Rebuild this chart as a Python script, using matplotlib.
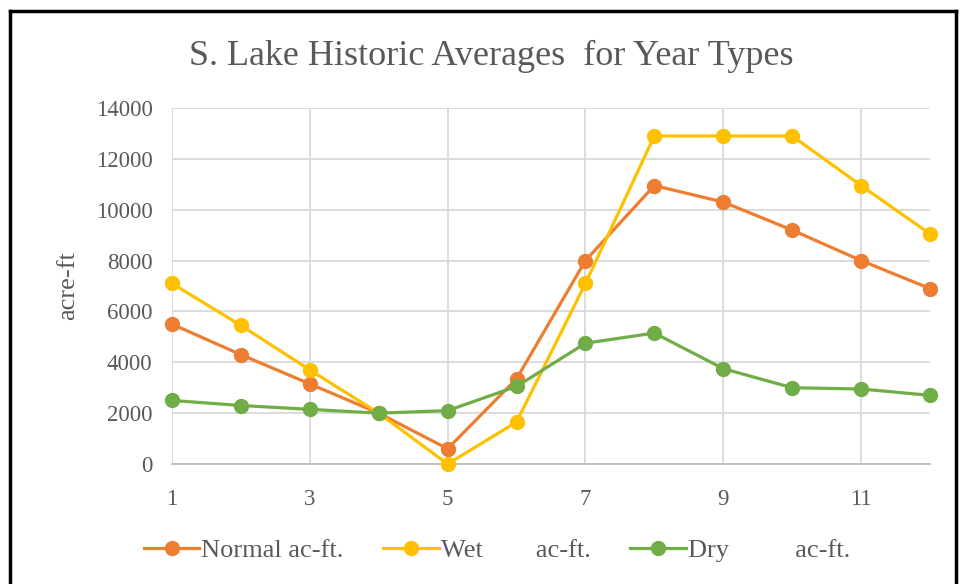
import matplotlib
matplotlib.use("Agg")
import matplotlib.pyplot as plt
from matplotlib.lines import Line2D

months = list(range(1, 13))
normal = [5500, 4300, 3150, 2000, 600, 3350, 8000, 10950, 10300, 9200, 8000, 6900]
wet = [7100, 5450, 3700, 2000, 0, 1650, 7100, 12900, 12900, 12900, 10950, 9050]
dry = [2500, 2300, 2150, 2000, 2100, 3050, 4750, 5150, 3750, 3000, 2950, 2700]
series_labels = ["Normal ac-ft.", "Wet        ac-ft.", "Dry          ac-ft."]
colors = ["#ED7D31", "#FFC000", "#70AD47"]
title = "S. Lake Historic Averages  for Year Types"
x_ticks = [1, 3, 5, 7, 9, 11]
y_ticks = list(range(0, 14001, 2000))

plt.rcParams['font.family'] = ['Liberation Serif', 'DejaVu Serif']
W, H = 961, 584
fig = plt.figure(figsize=(W / 100, H / 100), dpi=100)
ax = fig.add_axes([172 / W, 1 - 464 / H, (930 - 172) / W, (464 - 108) / H])

grey = "#595959"
for vals, c, lab in zip([normal, wet, dry], colors, series_labels):
    ax.plot(months, vals, color=c, lw=2.3, marker='o', ms=10, label=lab,
            solid_capstyle='round', clip_on=False, zorder=3)

ax.set_xlim(1, 12)
ax.set_ylim(0, 14000)
ax.set_xticks(x_ticks)
ax.set_yticks(y_ticks)
ax.grid(True, color="#D9D9D9", lw=1.3, zorder=0)
ax.set_axisbelow(True)
for s in ['top', 'right', 'left']:
    ax.spines[s].set_visible(False)
ax.spines['bottom'].set_color("#BFBFBF")
ax.spines['bottom'].set_linewidth(1.3)
ax.tick_params(axis='both', length=0, labelsize=16.5, colors=grey)
ax.tick_params(axis='x', pad=18)
ax.tick_params(axis='y', pad=14)
ax.set_ylabel("acre-ft", fontsize=19, color=grey, labelpad=12)

fig.text(491 / W, 1 - 56 / H, title, ha='center', va='center', fontsize=26, color=grey)

handles = [Line2D([], [], color=c, lw=2.3, marker='o', ms=10) for c in colors]
fig.legend(handles, series_labels, loc='center', bbox_to_anchor=(497 / W, 1 - 550 / H),
           ncol=3, frameon=False, fontsize=19, labelcolor=grey, handlelength=2.1,
           handletextpad=0.08, columnspacing=1.5)

# outer frame (left, top, right)
fig.add_artist(Line2D([9.5 / W, 9.5 / W], [0, 1 - 11 / H], color='black', lw=2.5, transform=fig.transFigure))
fig.add_artist(Line2D([9.5 / W, 956 / W], [1 - 11 / H, 1 - 11 / H], color='black', lw=2.5, transform=fig.transFigure))
fig.add_artist(Line2D([956 / W, 956 / W], [0, 1 - 11 / H], color='black', lw=2.5, transform=fig.transFigure))

fig.savefig("out.png", dpi=100, facecolor='white')
